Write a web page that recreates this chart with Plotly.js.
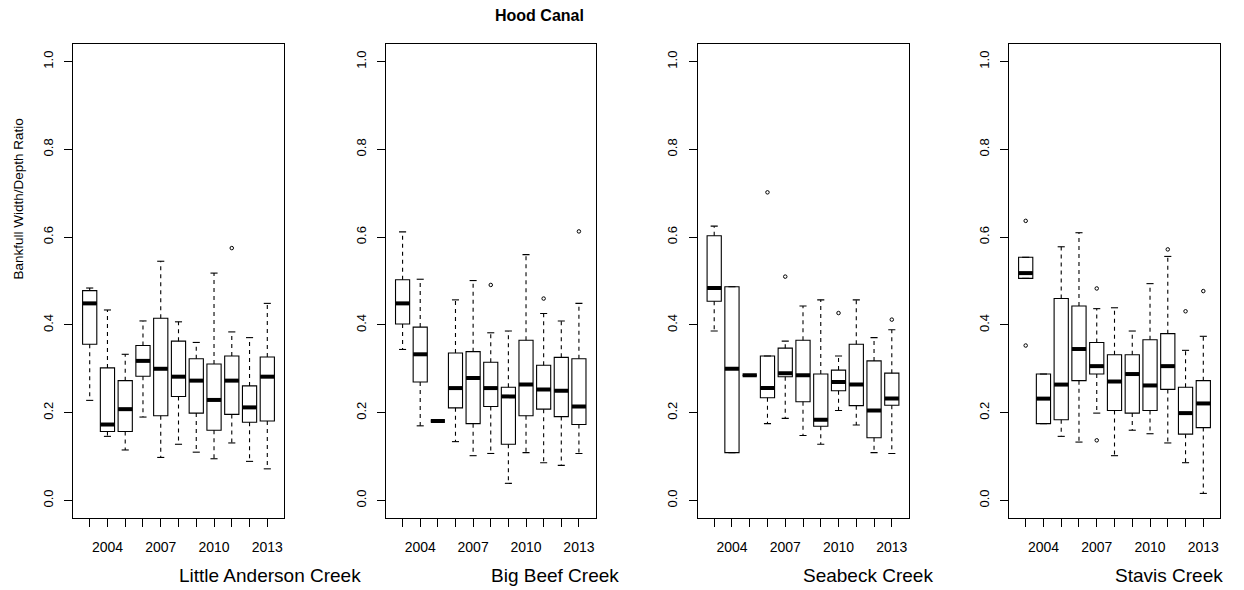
<!DOCTYPE html>
<html>
<head>
<meta charset="utf-8">
<script src="https://cdn.plot.ly/plotly-3.0.1.min.js"></script>
<style>html,body{margin:0;padding:0;background:#fff;}#chart{width:1244px;height:590px;}</style>
</head>
<body>
<div id="chart"></div>
<script>
// ---- data ----
const years = [2003, 2004, 2005, 2006, 2007, 2008, 2009, 2010, 2011, 2012, 2013];
const xTickText = ['', '2004', '', '', '2007', '', '', '2010', '', '', '2013'];
const yTickVals = [0, 0.2, 0.4, 0.6, 0.8, 1.0];
const yTickText = ['0.0', '0.2', '0.4', '0.6', '0.8', '1.0'];
const creeks = ['Little Anderson Creek', 'Big Beef Creek', 'Seabeck Creek', 'Stavis Creek'];

// Little Anderson Creek
const laLo  = [0.228, 0.146, 0.115, 0.190, 0.098, 0.128, 0.110, 0.095, 0.131, 0.089, 0.072];
const laQ1  = [0.356, 0.157, 0.157, 0.283, 0.193, 0.237, 0.199, 0.160, 0.196, 0.178, 0.181];
const laMed = [0.449, 0.173, 0.208, 0.318, 0.300, 0.282, 0.273, 0.229, 0.273, 0.212, 0.282];
const laQ3  = [0.478, 0.302, 0.273, 0.353, 0.415, 0.363, 0.323, 0.311, 0.329, 0.261, 0.327];
const laHi  = [0.484, 0.434, 0.333, 0.409, 0.545, 0.407, 0.360, 0.518, 0.384, 0.371, 0.449];
const laOutYear = [2011];
const laOutVal  = [0.575];

// Big Beef Creek
const bbLo  = [0.344, 0.170, 0.181, 0.134, 0.102, 0.107, 0.039, 0.109, 0.086, 0.080, 0.107];
const bbQ1  = [0.402, 0.270, 0.181, 0.211, 0.175, 0.214, 0.128, 0.193, 0.208, 0.191, 0.173];
const bbMed = [0.449, 0.333, 0.181, 0.256, 0.279, 0.256, 0.237, 0.264, 0.253, 0.250, 0.214];
const bbQ3  = [0.503, 0.395, 0.181, 0.336, 0.339, 0.315, 0.258, 0.365, 0.308, 0.326, 0.323];
const bbHi  = [0.612, 0.504, 0.181, 0.457, 0.501, 0.382, 0.386, 0.560, 0.426, 0.409, 0.449];
const bbOutYear = [2008, 2011, 2013];
const bbOutVal  = [0.491, 0.460, 0.613];

// Seabeck Creek
const sbLo  = [0.386, 0.109, 0.285, 0.175, 0.187, 0.148, 0.128, 0.205, 0.172, 0.109, 0.107];
const sbQ1  = [0.454, 0.109, 0.285, 0.234, 0.282, 0.225, 0.169, 0.250, 0.216, 0.143, 0.217];
const sbMed = [0.484, 0.300, 0.285, 0.256, 0.290, 0.285, 0.184, 0.270, 0.264, 0.205, 0.232];
const sbQ3  = [0.603, 0.487, 0.285, 0.329, 0.347, 0.365, 0.288, 0.297, 0.356, 0.318, 0.290];
const sbHi  = [0.625, 0.487, 0.285, 0.329, 0.363, 0.443, 0.457, 0.329, 0.457, 0.371, 0.389];
const sbOutYear = [2006, 2007, 2010, 2013];
const sbOutVal  = [0.702, 0.510, 0.427, 0.412];

// Stavis Creek
const stLo  = [0.506, 0.175, 0.146, 0.133, 0.199, 0.102, 0.160, 0.152, 0.131, 0.086, 0.016];
const stQ1  = [0.506, 0.175, 0.184, 0.273, 0.288, 0.205, 0.199, 0.205, 0.253, 0.151, 0.166];
const stMed = [0.518, 0.232, 0.264, 0.345, 0.306, 0.271, 0.288, 0.262, 0.306, 0.199, 0.221];
const stQ3  = [0.554, 0.288, 0.460, 0.443, 0.360, 0.332, 0.332, 0.366, 0.380, 0.258, 0.273];
const stHi  = [0.554, 0.288, 0.578, 0.610, 0.437, 0.439, 0.386, 0.494, 0.556, 0.342, 0.374];
const stOutYear = [2003, 2003, 2007, 2007, 2011, 2012, 2013];
const stOutVal  = [0.637, 0.353, 0.483, 0.137, 0.572, 0.431, 0.477];

const panels = [
  {lo: laLo, q1: laQ1, med: laMed, q3: laQ3, hi: laHi, ox: laOutYear, oy: laOutVal},
  {lo: bbLo, q1: bbQ1, med: bbMed, q3: bbQ3, hi: bbHi, ox: bbOutYear, oy: bbOutVal},
  {lo: sbLo, q1: sbQ1, med: sbMed, q3: sbQ3, hi: sbHi, ox: sbOutYear, oy: sbOutVal},
  {lo: stLo, q1: stQ1, med: stMed, q3: stQ3, hi: stHi, ox: stOutYear, oy: stOutVal}
];

// ---- layout geometry ----
const W = 1244, H = 590;
const BOXW = 0.8, STAPLE = 0.4;
const panelPx = [[73, 284], [386, 595.5], [697.5, 908.5], [1009, 1220]];
const yDom = [1 - 518 / H, 1 - 44 / H];
const FONT = 'Liberation Sans, Arial, Helvetica, sans-serif';

const traces = [];
panels.forEach((p, k) => {
  const xa = 'x' + (k === 0 ? '' : k + 1);
  const ya = 'y' + (k === 0 ? '' : k + 1);
  traces.push({
    type: 'box', x: years, q1: p.q1, median: p.med, q3: p.q3,
    lowerfence: p.q1, upperfence: p.q3, width: BOXW,
    fillcolor: 'white', line: {color: 'black', width: 1.1},
    boxpoints: false, xaxis: xa, yaxis: ya, hoverinfo: 'skip'
  });
  const wx = [], wy = [], sx = [], sy = [], mx = [], my = [];
  years.forEach((yr, i) => {
    wx.push(yr, yr, null, yr, yr, null);
    wy.push(p.q3[i], p.hi[i], null, p.q1[i], p.lo[i], null);
    sx.push(yr - STAPLE / 2, yr + STAPLE / 2, null, yr - STAPLE / 2, yr + STAPLE / 2, null);
    sy.push(p.hi[i], p.hi[i], null, p.lo[i], p.lo[i], null);
    mx.push(yr - BOXW / 2, yr + BOXW / 2, null);
    my.push(p.med[i], p.med[i], null);
  });
  traces.push({type: 'scatter', mode: 'lines', x: wx, y: wy, xaxis: xa, yaxis: ya,
    line: {color: 'black', width: 1.1, dash: '4px,4px'}, hoverinfo: 'skip'});
  traces.push({type: 'scatter', mode: 'lines', x: sx, y: sy, xaxis: xa, yaxis: ya,
    line: {color: 'black', width: 1.1}, hoverinfo: 'skip'});
  traces.push({type: 'scatter', mode: 'lines', x: mx, y: my, xaxis: xa, yaxis: ya,
    line: {color: 'black', width: 4}, hoverinfo: 'skip'});
  traces.push({type: 'scatter', mode: 'markers', x: p.ox, y: p.oy, xaxis: xa, yaxis: ya,
    marker: {symbol: 'circle-open', size: 3.5, color: 'black', line: {width: 1}}, hoverinfo: 'skip'});
});

const layout = {
  width: W, height: H, margin: {l: 0, r: 0, t: 0, b: 0},
  paper_bgcolor: 'white', plot_bgcolor: 'white', showlegend: false,
  font: {family: FONT, color: 'black'},
  annotations: []
};
panelPx.forEach((px, k) => {
  const sfx = k === 0 ? '' : String(k + 1);
  layout['xaxis' + sfx] = {
    domain: [px[0] / W, px[1] / W], range: [2003 - 0.94, 2013 + 0.94],
    anchor: 'y' + sfx, tickvals: years, ticktext: xTickText,
    ticks: 'outside', ticklen: 8, tickwidth: 1, tickcolor: 'black',
    showline: true, mirror: true, linecolor: 'black', linewidth: 1,
    showgrid: false, zeroline: false, ticklabelstandoff: 8,
    tickfont: {family: FONT, size: 14, color: 'black'}
  };
  layout['yaxis' + sfx] = {
    domain: yDom, range: [-0.04, 1.04], anchor: 'x' + sfx,
    tickvals: yTickVals, ticktext: yTickText, tickangle: -90,
    ticks: 'outside', ticklen: 8, tickwidth: 1, tickcolor: 'black',
    showline: true, mirror: true, linecolor: 'black', linewidth: 1,
    showgrid: false, zeroline: false, ticklabelstandoff: 6,
    tickfont: {family: FONT, size: 13, color: 'black'}
  };
  layout.annotations.push({
    text: creeks[k], xref: 'paper', yref: 'paper',
    x: (px[0] + px[1]) / 2 / W - 2 / W, y: 1 - 575 / H, xanchor: 'left', yanchor: 'middle',
    showarrow: false, font: {family: FONT, size: 19, color: 'black'}
  });
});
layout.annotations.push({
  text: '<b>Hood Canal</b>', xref: 'paper', yref: 'paper',
  x: 539.5 / W, y: 1 - 15 / H, xanchor: 'center', yanchor: 'middle',
  showarrow: false, font: {family: FONT, size: 16, color: 'black'}
});
layout.annotations.push({
  text: 'Bankfull Width/Depth Ratio', xref: 'paper', yref: 'paper',
  x: 18 / W, y: 1 - 199.5 / H, xanchor: 'center', yanchor: 'middle', textangle: -90,
  showarrow: false, font: {family: FONT, size: 13.5, color: 'black'}
});

Plotly.newPlot('chart', traces, layout, {staticPlot: true});
</script>
</body>
</html>
